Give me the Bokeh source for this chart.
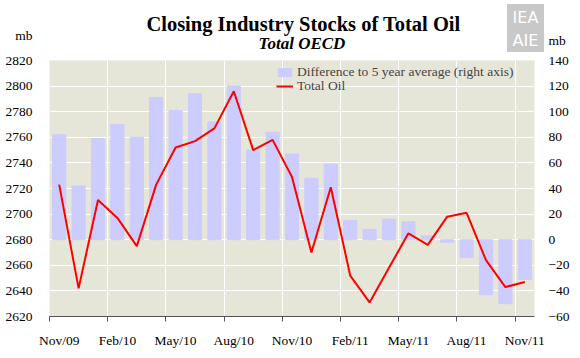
from bokeh.plotting import figure
from bokeh.layouts import column
from bokeh.models import (Range1d, LinearAxis, FixedTicker, Legend, LegendItem)
from bokeh.core.properties import value
from bokeh.embed import file_html
from bokeh.resources import INLINE

# ---------------- data ----------------
months = ["Nov/09", "Dec/09", "Jan/10", "Feb/10", "Mar/10", "Apr/10", "May/10",
          "Jun/10", "Jul/10", "Aug/10", "Sep/10", "Oct/10", "Nov/10", "Dec/10",
          "Jan/11", "Feb/11", "Mar/11", "Apr/11", "May/11", "Jun/11", "Jul/11",
          "Aug/11", "Sep/11", "Oct/11", "Nov/11"]
diff_5yr = [82, 42, 79, 90, 80, 111, 101, 114, 92, 120, 70, 84, 67, 48, 59,
            15, 8, 16, 14, 3, -2, -14, -43, -50, -31]
total_oil = [2723, 2642, 2711, 2697, 2675, 2723, 2752, 2757, 2767, 2796, 2750,
             2758, 2729, 2670, 2721, 2652, 2631, 2658, 2685, 2676, 2698, 2701,
             2664, 2643, 2647]
left_ticks = [2620, 2640, 2660, 2680, 2700, 2720, 2740, 2760, 2780, 2800, 2820]
right_ticks = [-60, -40, -20, 0, 20, 40, 60, 80, 100, 120, 140]
label_every = 3

title_text = "Closing Industry Stocks of Total Oil"
subtitle_text = "Total OECD"
unit_text = "mb"
bar_label = "Difference to 5 year average (right axis)"
line_label = "Total Oil"

FONT = "Liberation Serif"
W = 572
HEAD_H = 52

# ---------------- header (titles, units, logo) ----------------
head = figure(width=W, height=HEAD_H, output_backend="svg", toolbar_location=None,
              x_range=Range1d(0, W), y_range=Range1d(0, HEAD_H),
              x_axis_location=None, y_axis_location=None, frame_align=False,
              min_border=0, outline_line_color=None, background_fill_color="white",
              border_fill_color="white")
head.grid.visible = False
head.quad(left=[507], right=[543], bottom=[0], top=[48], color="#C8C8C8")
head.text(x=[525, 525], y=[35, 12], text=["IEA", "AIE"], text_color="white",
          text_align="center", text_baseline="middle",
          text_font=value("DejaVu Sans"), text_font_size="16px")
head.text(x=[303], y=[29], text=[title_text], text_align="center",
          text_baseline="middle", text_font=value(FONT), text_font_style="bold",
          text_font_size="20.5px", text_color="black")
head.text(x=[301.5], y=[9], text=[subtitle_text], text_align="center",
          text_baseline="middle", text_font=value(FONT),
          text_font_style="bold italic", text_font_size="17px", text_color="black")
head.text(x=[32], y=[17], text=[unit_text], text_align="right",
          text_baseline="middle", text_font=value(FONT), text_font_size="13.5px",
          text_color="black")
head.text(x=[548], y=[12], text=[unit_text], text_align="left",
          text_baseline="middle", text_font=value(FONT), text_font_size="13.5px",
          text_color="black")

# ---------------- main chart ----------------
n = len(months)
xc = [i + 0.5 for i in range(n)]

p = figure(width=W, height=298, output_backend="svg", frame_align=False,
           toolbar_location=None, x_range=Range1d(0, n),
           y_range=Range1d(left_ticks[0], left_ticks[-1]),
           min_border_left=49, min_border_right=32, min_border_top=8,
           min_border_bottom=32, background_fill_color="#E6E6D8",
           border_fill_color="white", outline_line_color=None)
p.extra_y_ranges = {"right": Range1d(right_ticks[0], right_ticks[-1])}

bars = p.vbar(x=xc, top=diff_5yr, bottom=0, width=0.68, color="#CCCCFF",
              y_range_name="right")
line = p.line(x=xc, y=total_oil, color="#FF0000", line_width=2)

p.xaxis.ticker = FixedTicker(ticks=xc[::label_every],
                             minor_ticks=list(range(0, n, label_every)))
p.xaxis.major_label_overrides = {xc[i]: months[i] for i in range(0, n, label_every)}
p.xaxis.major_tick_out = 0
p.xaxis.major_tick_in = 0
p.xaxis.minor_tick_out = 5
p.xaxis.minor_tick_in = 0
p.xaxis.axis_line_color = "#555555"
p.xaxis.minor_tick_line_color = "#555555"
p.xaxis.major_label_standoff = 11

p.yaxis.ticker = FixedTicker(ticks=left_ticks)
p.yaxis.axis_line_color = None
p.yaxis.major_tick_line_color = None
p.yaxis.minor_tick_line_color = None
p.yaxis.major_label_standoff = 11

raxis = LinearAxis(y_range_name="right", ticker=FixedTicker(ticks=right_ticks),
                   axis_line_color=None, major_tick_line_color=None,
                   minor_tick_line_color=None, major_label_standoff=8)
p.add_layout(raxis, "right")

for ax in [p.xaxis[0], p.yaxis[0], raxis]:
    ax.major_label_text_font = FONT
    ax.major_label_text_font_size = "13.5px"
    ax.major_label_text_color = "black"

p.xgrid.ticker = FixedTicker(ticks=list(range(label_every, n, label_every)))
p.xgrid.grid_line_color = "white"
p.ygrid.grid_line_color = "white"

legend_style = dict(label_text_font=FONT, label_text_font_size="13.5px",
                    glyph_width=17, glyph_height=10, label_height=14, spacing=0,
                    padding=0, margin=0, background_fill_alpha=0,
                    border_line_alpha=0, label_standoff=4)
leg1 = Legend(items=[LegendItem(label=bar_label, renderers=[bars])],
              location=(227, 236), **legend_style)
leg2 = Legend(items=[LegendItem(label=line_label, renderers=[line])],
              location=(227, 222), **legend_style)
p.add_layout(leg1)
p.add_layout(leg2)

layout = column(head, p, spacing=0)
open("out.html", "w").write(file_html(layout, INLINE))
